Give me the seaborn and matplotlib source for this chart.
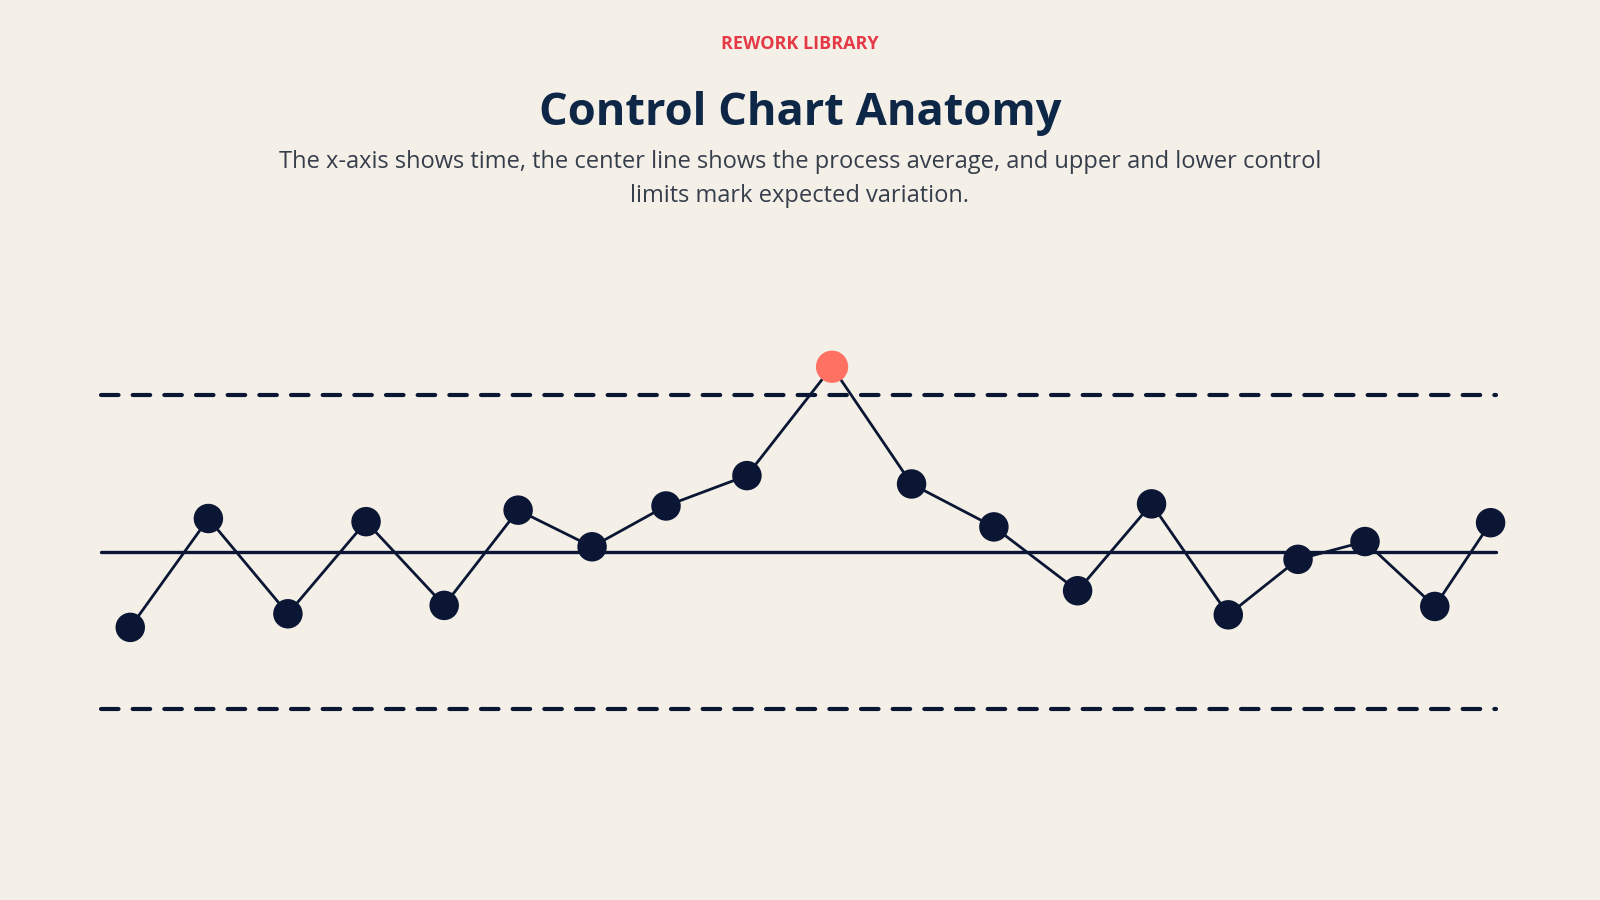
import matplotlib
matplotlib.use("Agg")
import matplotlib.pyplot as plt
import seaborn as sns
import pandas as pd

# time position of each sample and its measured value
time = [2.1, 7.7, 13.4, 19.0, 24.6, 29.9, 35.2, 40.5, 46.3, 52.4,
        58.1, 64.0, 70.0, 75.3, 80.8, 85.8, 90.6, 95.6, 99.6]
value = [42.8, 53.2, 44.1, 52.9, 44.9, 54.0, 50.5, 54.4, 57.3, 67.7,
         56.5, 52.4, 46.3, 54.6, 44.0, 49.3, 51.0, 44.8, 52.8]
center_line = 50
upper_limit = 65
lower_limit = 35

df = pd.DataFrame({"time": time, "value": value})
df["out"] = (df["value"] > upper_limit) | (df["value"] < lower_limit)

bg = "#f4f0e8"
navy = "#0a1633"

sns.set_theme(style="white")
plt.rcParams["font.family"] = ["Open Sans", "DejaVu Sans"]

fig = plt.figure(figsize=(16, 9), dpi=100, facecolor=bg)
ax = fig.add_axes([0.0631, 0.2122, 0.8720, 0.3489])
ax.set_facecolor(bg)

# limits and center line
for lim in (upper_limit, lower_limit):
    ax.axhline(lim, color=navy, lw=3, ls=(0, (4.2, 3.4)), dash_capstyle="round",
               zorder=1, clip_on=False)
ax.axhline(center_line, color=navy, lw=2.4, zorder=1, clip_on=False)

sns.lineplot(data=df, x="time", y="value", ax=ax, color=navy, lw=2, zorder=2)
sns.scatterplot(data=df[~df["out"]], x="time", y="value", ax=ax, color=navy,
                s=450, edgecolor="none", zorder=3)
sns.scatterplot(data=df[df["out"]], x="time", y="value", ax=ax, color="#ff7263",
                s=540, edgecolor="none", zorder=3)
for artist in ax.lines + ax.collections:
    artist.set_clip_on(False)

ax.set_xlim(0, 100)
ax.set_ylim(lower_limit, upper_limit)
ax.set_xlabel("")
ax.set_ylabel("")
ax.set_xticks([])
ax.set_yticks([])
sns.despine(ax=ax, left=True, bottom=True)

fig.text(0.5, 1 - 44 / 900, "REWORK LIBRARY", ha="center", va="center",
         fontsize=13, fontweight="bold", color="#e63946")
fig.text(0.5, 1 - 114 / 900, "Control Chart Anatomy", ha="center", va="center",
         fontsize=32.6, fontweight="bold", color="#0f2747")
fig.text(0.5, 1 - 179 / 900,
         "The x-axis shows time, the center line shows the process average, and upper and lower control\nlimits mark expected variation.",
         ha="center", va="center", fontsize=17, color="#363d4b", linespacing=1.5)

fig.savefig("out.png", dpi=100, facecolor=bg)
